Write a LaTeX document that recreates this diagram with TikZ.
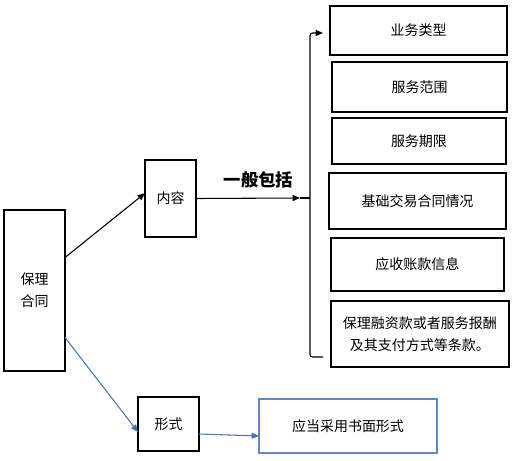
\documentclass[tikz,border=0pt]{standalone}
\usepackage{fontspec}
\setmainfont{Noto Sans CJK SC}
\usepackage{xcolor}
\usepackage{tikz}
\usetikzlibrary{arrows.meta, positioning}
\definecolor{lineBlue}{RGB}{68,114,196}

\begin{document}
\begin{tikzpicture}[x=0.75pt, y=-0.75pt,
  box/.style={rectangle, draw, line width=0.8pt, inner sep=0pt, outer sep=0pt,
              font=\fontsize{10.5}{16.5}\selectfont, align=center},
  arr/.style={-{Triangle[length=5.5pt, width=4.5pt]}, line width=0.8pt},
  barr/.style={arr, draw=lineBlue}
]
\useasboundingbox (0,0) rectangle (512,461);
% left side
\node[box, minimum width=45.75pt, minimum height=120.75pt] (blht) at (34.5,290.5) {保理\\合同};
\node[box, minimum width=38.25pt, minimum height=57.75pt] (nr) at (170.5,198.5) {内容};
\node[box, minimum width=45.75pt, minimum height=40.5pt] (xs) at (168.5,424) {形式};
\node[box, draw=lineBlue!85, minimum width=133.5pt, minimum height=40.5pt] (smxs) at (348,426) {应当采用书面形式};
% right column
\node[box, minimum width=132.75pt, minimum height=36.75pt] (ywlx) at (418.5,30.5) {业务类型};
\node[box, minimum width=131.25pt, minimum height=37.5pt] (fwfw) at (419.5,87) {服务范围};
\node[box, minimum width=130.5pt, minimum height=34.5pt] (fwqx) at (419,141) {服务期限};
\node[box, minimum width=132.75pt, minimum height=42pt] (jcjy) at (417.5,201) {基础交易合同情况};
\node[box, minimum width=129.75pt, minimum height=39.75pt] (yszk) at (417.5,264.5) {应收账款信息};
\node[box, minimum width=133.5pt, minimum height=49.5pt] (blrz) at (420,334) {保理融资款或者服务报酬\\及其支付方式等条款。};
% brace
\coordinate (bt) at (323,33);
\coordinate (bb) at (323,357);
\coordinate (bj) at (310,198);
\coordinate (bn) at (300,198);
\draw[arr, rounded corners=2pt] (bb) -| (bj) |- (bt);
\draw[line width=0.8pt] (bn) -- (bj);
\draw[arr] (nr.east) -- node[pos=0.6, above=4pt, font=\fontsize{13}{13}\selectfont\bfseries] {一般包括} (bn);
% connectors
\draw[arr] ([yshift=24.75pt]blht.east) -- ([yshift=4pt]nr.west);
\draw[barr] ([yshift=-35.25pt]blht.east) -- ([yshift=-6pt]xs.west);
\draw[barr] ([yshift=-7.5pt]xs.east) -- ([yshift=-7.5pt]smxs.west);
\end{tikzpicture}
\end{document}
